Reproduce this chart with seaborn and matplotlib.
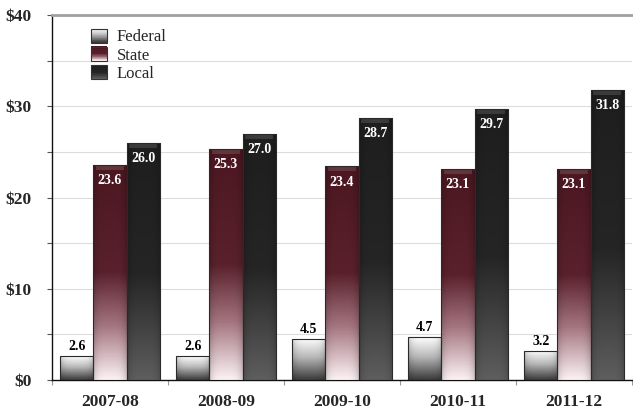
import numpy as np
import pandas as pd
import matplotlib
matplotlib.use('Agg')
import matplotlib.pyplot as plt
import seaborn as sns
from matplotlib.colors import LinearSegmentedColormap
from matplotlib.legend_handler import HandlerBase
from matplotlib.patches import Rectangle

# values (billions of dollars)
years = ['2007-08', '2008-09', '2009-10', '2010-11', '2011-12']
federal = [2.6, 2.6, 4.5, 4.7, 3.2]
state = [23.6, 25.3, 23.4, 23.1, 23.1]
local = [26.0, 27.0, 28.7, 29.7, 31.8]
sources = ['Federal', 'State', 'Local']
y_ticks = [0, 10, 20, 30, 40]
y_labels = ['$0', '$10', '$20', '$30', '$40']

df = pd.DataFrame({'year': years * 3,
                   'source': np.repeat(sources, len(years)),
                   'amount': federal + state + local})

# vertical gradients, top -> bottom
cmaps = {
    'Federal': LinearSegmentedColormap.from_list(
        'fed', [(0, '#ffffff'), (0.45, '#b9b9b9'), (1, '#3a3a3a')]),
    'State': LinearSegmentedColormap.from_list(
        'st', [(0, '#4c1721'), (0.5, '#5a212c'), (0.75, '#a47580'), (1, '#fbf1f3')]),
    'Local': LinearSegmentedColormap.from_list(
        'loc', [(0, '#1e1e1e'), (0.55, '#252525'), (1, '#5e5e5e')]),
}


class GradPatch(Rectangle):
    def __init__(self, cmap, **kw):
        super().__init__((0, 0), 1, 1, **kw)
        self.cmap = cmap


class GradHandler(HandlerBase):
    def create_artists(self, legend, orig_handle, xdescent, ydescent,
                       width, height, fontsize, trans):
        n = 20
        arts = []
        for i in range(n):
            r = Rectangle((-xdescent, -ydescent + height * (1 - (i + 1) / n)),
                          width, height / n + 0.2,
                          facecolor=orig_handle.cmap(i / (n - 1)),
                          edgecolor='none', transform=trans)
            arts.append(r)
        arts.append(Rectangle((-xdescent, -ydescent), width, height,
                              fill=False, edgecolor='#333333', lw=0.8,
                              transform=trans))
        return arts


sns.set_style('white')
plt.rcParams['font.family'] = ['Liberation Serif', 'DejaVu Serif']

fig = plt.figure(figsize=(6.33, 4.09), dpi=100)
ax = fig.add_axes([52 / 633, 29 / 409, 580 / 633, 365 / 409])

sns.barplot(data=df, x='year', y='amount', hue='source', hue_order=sources,
            order=years, width=0.86, ax=ax, legend=False, zorder=3)

ax.set_xlim(-0.5, len(years) - 0.5)
ax.set_ylim(0, 40)

# paint gradients clipped to each bar
shade = 1 - 0.18 * np.abs(np.linspace(-1, 1, 40)) ** 4
for src, cont in zip(sources, ax.containers):
    grad = cmaps[src](np.linspace(0, 1, 200))[:, :3]
    img = grad[:, None, :] * shade[None, :, None]
    for bar in cont:
        x0, w, h = bar.get_x(), bar.get_width(), bar.get_height()
        im = ax.imshow(img, extent=(x0, x0 + w, 0, h), origin='upper',
                       aspect='auto', zorder=3, interpolation='bilinear')
        im.set_clip_path(bar)
        # thin lighter cap at the top of each bar (bevel look)
        if src != 'Federal':
            cap = Rectangle((x0 + w * 0.08, h - 0.55), w * 0.84, 0.45,
                            facecolor='white', alpha=0.13, lw=0, zorder=3.5)
            ax.add_patch(cap)
        bar.set_facecolor('none')
        bar.set_edgecolor('#2a2a2a')
        bar.set_linewidth(0.8)
        bar.set_zorder(4)
        xc = x0 + w / 2
        if src == 'Federal':
            ax.annotate(f'{h:.1f}', (xc, h), xytext=(0, 2),
                        textcoords='offset points', ha='center', va='bottom',
                        fontsize=10, fontweight='bold', color='black', zorder=5)
        else:
            ax.annotate(f'{h:.1f}', (xc, h), xytext=(0, -6.5),
                        textcoords='offset points', ha='center', va='top',
                        fontsize=10, fontweight='bold', color='white', zorder=5)

ax.set_xlim(-0.5, len(years) - 0.5)
ax.set_ylim(0, 40)

ax.set_yticks(y_ticks)
ax.set_yticklabels(y_labels)
ax.set_yticks([5, 15, 25, 35], minor=True)
ax.set_xticks(np.arange(-0.5, len(years)), minor=True)
ax.grid(which='both', axis='y', color='#dcdcdc', lw=0.8, zorder=0)
ax.grid(axis='x', visible=False)
ax.set_axisbelow(True)

ax.tick_params(axis='y', which='both', direction='out', length=3.5,
               width=0.8, color='#555555', left=True, pad=11)
ax.tick_params(axis='x', which='major', length=0, pad=10)
ax.tick_params(axis='x', which='minor', direction='out', length=3.5,
               width=0.8, color='#999999', bottom=True)
for lab in ax.get_xticklabels() + ax.get_yticklabels():
    lab.set_fontsize(12.5)
    lab.set_fontweight('bold')

ax.set_xlabel('')
ax.set_ylabel('')
ax.spines['right'].set_visible(False)
ax.spines['top'].set_color('#a0a0a0')
ax.spines['top'].set_linewidth(2)
ax.spines['left'].set_color('#111111')
ax.spines['bottom'].set_color('#111111')
ax.spines['left'].set_linewidth(1)
ax.spines['bottom'].set_linewidth(1)

handles = [GradPatch(cmaps[s], label=s) for s in sources]
ax.legend(handles=handles, labels=sources, handler_map={GradPatch: GradHandler()},
          loc='upper left', bbox_to_anchor=(0.068, 0.963), frameon=False,
          fontsize=12, handlelength=0.95, handleheight=0.95,
          labelspacing=0.08, handletextpad=0.55, borderpad=0, borderaxespad=0)

fig.savefig('out.png', dpi=100)
